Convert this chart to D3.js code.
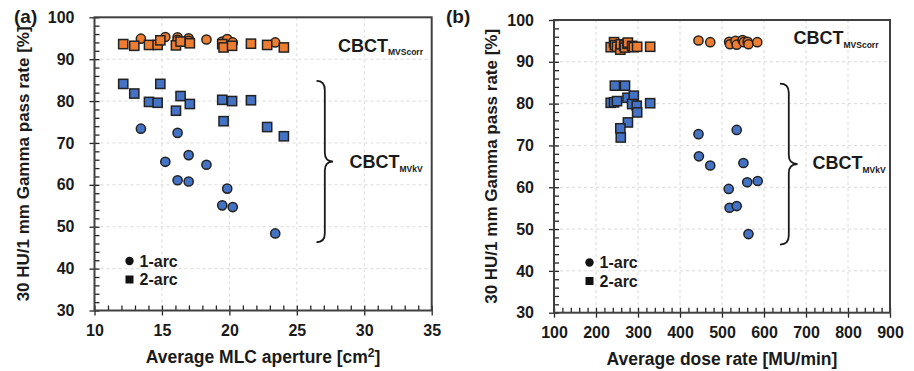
<!DOCTYPE html>
<html>
<head>
<meta charset="utf-8">
<script src="https://cdn.jsdelivr.net/npm/d3@7"></script>
<style>
  body { margin: 0; background: #fff; }
  svg text { font-family: "Liberation Sans", Arial, sans-serif; font-weight: bold; fill: #1a1a1a; }
</style>
</head>
<body>
<div id="chart"></div>
<script>
// ---- panel (a): Average MLC aperture [cm2] ----
var aArc1X       = [13.44, 15.25, 16.16, 16.16, 16.98, 16.98, 18.3, 19.47, 19.84, 20.25, 23.4];
var aArc1MVScorr = [94.9, 95.3, 95.2, 94.6, 95.0, 94.4, 94.7, 94.2, 94.8, 94.0, 94.0];
var aArc1MVkV    = [73.4, 65.5, 72.4, 61.1, 67.1, 60.8, 64.8, 55.1, 59.1, 54.7, 48.4];
var aArc2X       = [12.13, 12.95, 14.04, 14.68, 14.88, 16.04, 16.38, 17.07, 19.47, 19.57, 20.2, 21.6, 22.8, 24.04];
var aArc2MVScorr = [93.6, 93.2, 93.4, 93.4, 94.5, 93.3, 94.2, 93.8, 93.6, 92.8, 93.2, 93.7, 93.4, 92.8];
var aArc2MVkV    = [84.1, 81.8, 79.8, 79.6, 84.1, 77.7, 81.2, 79.3, 80.3, 75.2, 80.0, 80.2, 73.8, 71.6];

// ---- panel (b): Average dose rate [MU/min] ----
var bArc1MVScorrX = [444, 472, 517, 519, 532, 535, 549, 552, 561, 563, 584];
var bArc1MVScorr  = [95.1, 94.7, 94.8, 94.2, 95.0, 94.1, 95.2, 94.7, 94.8, 94.2, 94.7];
var bArc1MVkVX    = [444, 535, 445, 472, 551, 516, 560, 585, 518, 535, 563];
var bArc1MVkV     = [72.7, 73.7, 67.4, 65.2, 65.8, 59.6, 61.2, 61.5, 55.1, 55.5, 48.8];
var bArc2MVScorrX = [235, 243, 245, 250, 258, 259, 267, 269, 275, 276, 286, 290, 298, 329];
var bArc2MVScorr  = [93.5, 94.7, 94.0, 93.6, 92.9, 94.2, 93.9, 93.4, 94.3, 94.6, 93.8, 93.5, 93.6, 93.6];
var bArc2MVkVX    = [245, 269, 235, 243, 250, 275, 290, 286, 297, 298, 329, 276, 258, 259];
var bArc2MVkV     = [84.3, 84.3, 80.2, 80.3, 80.6, 81.4, 81.9, 79.9, 79.5, 77.9, 80.1, 75.5, 74.1, 71.9];

var yTicks = [30, 40, 50, 60, 70, 80, 90, 100];
var aXTicks = [10, 15, 20, 25, 30, 35];
var bXTicks = [100, 200, 300, 400, 500, 600, 700, 800, 900];

var ORANGE = '#ED7D31', BLUE = '#4472C4', EDGE = '#222222';

var svg = d3.select('#chart').append('svg').attr('width', 914).attr('height', 371);

function zip(xs, ys) {
    return xs.map(function(x, i) { return {x: x, y: ys[i]}; });
}

function drawPanel(cfg) {
    var x = d3.scaleLinear().domain([cfg.xTicks[0], cfg.xTicks[cfg.xTicks.length-1]]).range([cfg.left, cfg.right]);
    var y = d3.scaleLinear().domain([30, 100]).range([cfg.bottom, cfg.top]);
    var g = svg.append('g');

    // dashed grid
    g.selectAll('.vgrid').data(cfg.xTicks.slice(1, -1)).enter().append('line')
        .attr('x1', function(d) { return x(d); }).attr('x2', function(d) { return x(d); })
        .attr('y1', cfg.top).attr('y2', cfg.bottom)
        .attr('stroke', '#d9d9d9').attr('stroke-dasharray', '3,3');
    g.selectAll('.hgrid').data(yTicks.slice(1, -1)).enter().append('line')
        .attr('x1', cfg.left).attr('x2', cfg.right)
        .attr('y1', function(d) { return y(d); }).attr('y2', function(d) { return y(d); })
        .attr('stroke', '#d9d9d9').attr('stroke-dasharray', '3,3');

    // axes: major ticks cross the line, minor ticks inside
    var step = (cfg.xTicks[1] - cfg.xTicks[0]) / 5;
    var xMinor = d3.range(cfg.xTicks[0], cfg.xTicks[cfg.xTicks.length-1] + step/2, step);
    var yMinor = d3.range(30, 101, 2);

    var xAx = g.append('g').attr('transform', 'translate(0,' + cfg.bottom + ')')
        .call(d3.axisBottom(x).tickValues(cfg.xTicks).tickSize(5).tickPadding(9));
    g.append('g').attr('transform', 'translate(0,' + cfg.bottom + ')')
        .call(d3.axisTop(x).tickValues(xMinor).tickSize(5).tickFormat(''));
    var yAx = g.append('g').attr('transform', 'translate(' + cfg.left + ',0)')
        .call(d3.axisLeft(y).tickValues(yTicks).tickSize(5).tickPadding(15));
    g.append('g').attr('transform', 'translate(' + cfg.left + ',0)')
        .call(d3.axisRight(y).tickValues(yMinor).tickSize(5).tickFormat(''));
    g.selectAll('.domain').remove();
    g.selectAll('.tick line').attr('stroke', '#262626').attr('stroke-width', 1.3);
    [xAx, yAx].forEach(function(a) {
        a.selectAll('text').attr('font-size', 16).attr('font-family', null).attr('fill', '#1a1a1a');
    });

    g.append('rect').attr('x', cfg.left).attr('y', cfg.top)
        .attr('width', cfg.right - cfg.left).attr('height', cfg.bottom - cfg.top)
        .attr('fill', 'none').attr('stroke', '#404040').attr('stroke-width', 2);

    // axis titles + panel tag
    var xt = g.append('text').attr('x', (cfg.left + cfg.right)/2).attr('y', cfg.bottom + 52)
        .attr('text-anchor', 'middle').attr('font-size', 17.5).text(cfg.xTitle);
    if (cfg.xTitleSup) {
        xt.append('tspan').attr('dy', -6).attr('font-size', 12).text(cfg.xTitleSup);
        xt.append('tspan').attr('dy', 6).text(']');
    }
    g.append('text')
        .attr('transform', 'translate(' + cfg.yTitleX + ',' + ((cfg.top + cfg.bottom)/2) + ') rotate(-90)')
        .attr('text-anchor', 'middle').attr('font-size', 17)
        .text('30 HU/1 mm Gamma pass rate [%]');
    g.append('text').attr('x', cfg.tagX).attr('y', 23).attr('font-size', 19).text(cfg.tag);

    // markers: circles under squares
    function circles(data, color) {
        g.append('g').selectAll('circle').data(data).enter().append('circle')
            .attr('cx', function(d) { return x(d.x); }).attr('cy', function(d) { return y(d.y); })
            .attr('r', 4.6).attr('fill', color).attr('stroke', EDGE).attr('stroke-width', 1.5);
    }
    function squares(data, color) {
        g.append('g').selectAll('rect').data(data).enter().append('rect')
            .attr('x', function(d) { return x(d.x) - 4.6; }).attr('y', function(d) { return y(d.y) - 4.6; })
            .attr('width', 9.2).attr('height', 9.2).attr('fill', color).attr('stroke', EDGE).attr('stroke-width', 1.5);
    }
    circles(cfg.arc1MVkV, BLUE);
    squares(cfg.arc2MVkV, BLUE);
    circles(cfg.arc1MVScorr, ORANGE);
    squares(cfg.arc2MVScorr, ORANGE);

    // curly brace grouping the MVkV points
    var bx0 = x(cfg.brace[0]), bx2 = x(cfg.brace[1]), bx1 = (bx0 + bx2)/2;
    var by0 = y(84.8), by2 = y(46.3), bym = (by0 + by2)/2, r = 9;
    var p = d3.path();
    p.moveTo(bx0, by0);
    p.quadraticCurveTo(bx1, by0, bx1, by0 + r);
    p.lineTo(bx1, bym - r);
    p.quadraticCurveTo(bx1, bym, bx2, bym);
    p.quadraticCurveTo(bx1, bym, bx1, bym + r);
    p.lineTo(bx1, by2 - r);
    p.quadraticCurveTo(bx1, by2, bx0, by2);
    g.append('path').attr('d', p.toString()).attr('fill', 'none').attr('stroke', '#1a1a1a').attr('stroke-width', 1.8);

    // series labels
    var t1 = g.append('text').attr('x', cfg.scorrLabel[0]).attr('y', cfg.scorrLabel[1]).attr('font-size', 18).text('CBCT');
    t1.append('tspan').attr('dy', 3.5).attr('font-size', 8.5).text('MVScorr');
    var t2 = g.append('text').attr('x', cfg.kvLabel[0]).attr('y', cfg.kvLabel[1]).attr('font-size', 18).text('CBCT');
    t2.append('tspan').attr('dy', 3.5).attr('font-size', 8.5).text('MVkV');

    // legend
    g.append('circle').attr('cx', cfg.legend[0]).attr('cy', cfg.legend[1]).attr('r', 4.2).attr('fill', '#111');
    g.append('rect').attr('x', cfg.legend[0] - 4).attr('y', cfg.legend[1] + 14.5).attr('width', 8).attr('height', 8).attr('fill', '#111');
    g.append('text').attr('x', cfg.legend[0] + 10).attr('y', cfg.legend[1] + 5.5).attr('font-size', 16).text('1-arc');
    g.append('text').attr('x', cfg.legend[0] + 10).attr('y', cfg.legend[1] + 24).attr('font-size', 16).text('2-arc');
}

drawPanel({
    left: 94.5, right: 431.7, top: 17.3, bottom: 310.5,
    xTicks: aXTicks, xTitle: 'Average MLC aperture [cm', xTitleSup: '2',
    yTitleX: 29, tag: '(a)', tagX: 14,
    arc1MVkV: zip(aArc1X, aArc1MVkV), arc2MVkV: zip(aArc2X, aArc2MVkV),
    arc1MVScorr: zip(aArc1X, aArc1MVScorr), arc2MVScorr: zip(aArc2X, aArc2MVScorr),
    brace: [26.46, 27.69], scorrLabel: [338, 51.7], kvLabel: [349.5, 168.3], legend: [129.5, 261]
});

drawPanel({
    left: 554, right: 890, top: 20, bottom: 312.7,
    xTicks: bXTicks, xTitle: 'Average dose rate [MU/min]',
    yTitleX: 497, tag: '(b)', tagX: 446,
    arc1MVkV: zip(bArc1MVkVX, bArc1MVkV), arc2MVkV: zip(bArc2MVkVX, bArc2MVkV),
    arc1MVScorr: zip(bArc1MVScorrX, bArc1MVScorr), arc2MVScorr: zip(bArc2MVScorrX, bArc2MVScorr),
    brace: [638, 680], scorrLabel: [793.5, 44], kvLabel: [812.5, 169.3], legend: [589.5, 262.5]
});
</script>
</body>
</html>
